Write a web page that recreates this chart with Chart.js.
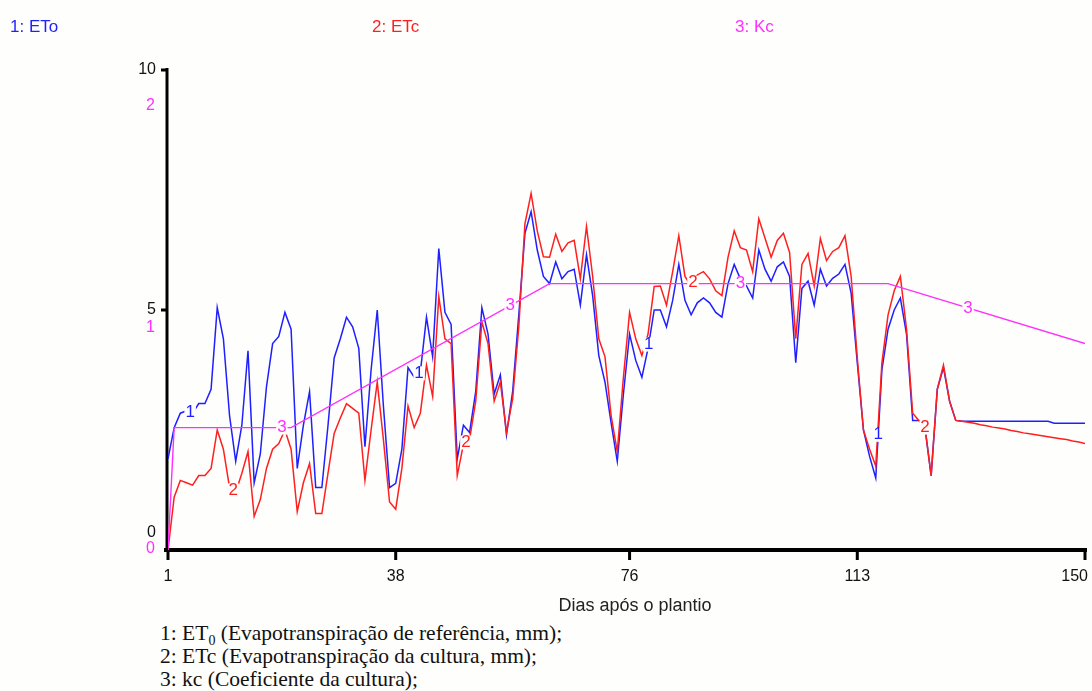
<!DOCTYPE html>
<html>
<head>
<meta charset="utf-8">
<script src="https://cdn.jsdelivr.net/npm/chart.js@4.4.1/dist/chart.umd.min.js"></script>
<style>
  html, body { margin: 0; padding: 0; background: #fefefc; }
  #wrap { position: relative; width: 1092px; height: 691px; overflow: hidden; }
  #myChart { position: absolute; left: 0; top: 0; }
  .cap { position: absolute; left: 160px; font-family: "Liberation Serif", "Times New Roman", serif;
         font-size: 21.5px; line-height: 23px; color: #111; white-space: nowrap; }
  .cap sub { font-size: 14px; line-height: 0; }
</style>
</head>
<body>
<div id="wrap">
  <canvas id="myChart" width="1092" height="620"></canvas>
  <div class="cap" style="top:622px">1: ET<sub>0</sub> (Evapotranspiração de referência, mm);</div>
  <div class="cap" style="top:645px">2: ETc (Evapotranspiração da cultura, mm);</div>
  <div class="cap" style="top:668px">3: kc (Coeficiente da cultura);</div>
</div>
<script>
// dias apos o plantio
const dias = Array.from({length: 150}, (_, i) => i + 1);

// 1: ETo (mm/dia)
const eto = [
  1.9, 2.55, 2.85, 2.9, 2.85, 3.05, 3.05, 3.35, 5.05, 4.4,
  2.8, 1.85, 2.6, 4.15, 1.4, 2.0, 3.4, 4.3, 4.45, 4.95,
  4.6, 1.7, 2.6, 3.3, 1.3, 1.3, 2.6, 4.0, 4.4, 4.85,
  4.65, 4.2, 2.15, 3.75, 5.0, 3.0, 1.3, 1.39, 2.1, 3.8,
  3.6, 3.7, 4.85, 4.03, 6.28, 4.95, 4.7, 1.9, 2.6, 2.45,
  3.3, 5.05, 4.5, 3.25, 3.65, 2.4, 3.3, 4.9, 6.6, 7.05,
  6.25, 5.7, 5.55, 6.0, 5.65, 5.8, 5.85, 5.1, 6.15, 5.3,
  4.05, 3.5, 2.65, 1.85, 3.25, 4.5, 3.95, 3.6, 4.2, 5.0,
  5.0, 4.65, 5.2, 5.95, 5.2, 4.9, 5.15, 5.25, 5.15, 4.95,
  4.85, 5.55, 5.95, 5.65, 5.5, 5.25, 6.25, 5.85, 5.6, 5.9,
  6.0, 5.7, 3.9, 5.45, 5.6, 5.1, 5.85, 5.5, 5.66, 5.75,
  5.95, 5.35, 3.9, 2.5, 1.95, 1.5, 3.75, 4.6, 5.0, 5.25,
  4.5, 2.7, 2.7, 2.55, 1.55, 3.35, 3.8, 3.1, 2.7, 2.68,
  2.68, 2.68, 2.68, 2.68, 2.68, 2.68, 2.68, 2.68, 2.68, 2.68,
  2.68, 2.68, 2.68, 2.68, 2.64, 2.64, 2.64, 2.64, 2.64, 2.64
];

// 2: ETc (mm/dia)
const etc = [
  0, 1.1, 1.45, 1.4, 1.35, 1.55, 1.55, 1.7, 2.5, 2.1,
  1.3, 1.2, 1.6, 2.05, 0.7, 1.05, 1.7, 2.1, 2.22, 2.5,
  2.1, 0.8, 1.4, 1.8, 0.76, 0.76, 1.6, 2.43, 2.75, 3.05,
  2.95, 2.85, 1.45, 2.5, 3.5, 2.3, 1.0, 0.85, 1.7, 3.0,
  2.55, 2.85, 3.85, 3.2, 5.28, 4.4, 4.3, 1.55, 2.2, 2.3,
  3.1, 4.75, 4.3, 3.1, 3.5, 2.45, 3.15, 4.65, 6.8, 7.43,
  6.65, 6.11, 6.1, 6.58, 6.22, 6.4, 6.45, 5.65, 6.74, 5.7,
  4.4, 4.03, 2.8, 2.05, 3.6, 4.95, 4.4, 4.05, 4.5, 5.49,
  5.5, 5.1, 5.8, 6.55, 5.7, 5.5, 5.73, 5.8, 5.65, 5.4,
  5.3, 6.1, 6.65, 6.3, 6.25, 5.8, 6.9, 6.5, 6.1, 6.45,
  6.6, 6.2, 4.4, 5.95, 6.18, 5.5, 6.49, 6.03, 6.22, 6.3,
  6.55, 5.7, 4.0, 2.5, 2.1, 1.75, 3.9, 4.9, 5.4, 5.7,
  4.6, 2.85, 2.7, 2.55, 1.55, 3.35, 3.85, 3.1, 2.7, 2.68,
  2.66, 2.64, 2.61, 2.59, 2.56, 2.54, 2.52, 2.49, 2.47, 2.44,
  2.42, 2.40, 2.38, 2.36, 2.34, 2.32, 2.30, 2.27, 2.25, 2.22
];

// 3: Kc - pontos de quebra da curva
const kcDias = [1, 2, 21, 63, 118, 150];
const kcVals = [0, 0.51, 0.51, 1.11, 1.11, 0.86];

const xTicks = [1, 38, 76, 113, 150];
const yTicks = [0, 5, 10];
const kcTicks = [0, 1, 2];

const AZUL = '#1f1fff', VERM = '#ff1f1f', MAG = '#ff30ff';
const FONTE = '"Liberation Sans", Arial, sans-serif';

// dias onde o numero da curva aparece
const rotulos = [
  { txt: '1', cor: AZUL, eixo: 'y', dias: [4.6, 41.8, 79.1, 116.4], xs: dias, ys: eto },
  { txt: '2', cor: VERM, eixo: 'y', dias: [11.6, 49.4, 86.3, 124], xs: dias, ys: etc },
  { txt: '3', cor: MAG, eixo: 'yk', dias: [19.5, 56.6, 94, 131], xs: kcDias, ys: kcVals }
];

function valorEm(xs, ys, d) {
  for (let i = 1; i < xs.length; i++) {
    if (d <= xs[i]) {
      const t = (d - xs[i - 1]) / (xs[i] - xs[i - 1]);
      return ys[i - 1] + t * (ys[i] - ys[i - 1]);
    }
  }
  return ys[ys.length - 1];
}

const eixos = {
  id: 'eixos',
  beforeDatasetsDraw(chart) {
    const ctx = chart.ctx, sx = chart.scales.x, sy = chart.scales.y;
    const x0 = sx.getPixelForValue(1), x1 = sx.getPixelForValue(150);
    const y0 = sy.getPixelForValue(0), yTop = sy.getPixelForValue(10);
    ctx.save();
    ctx.strokeStyle = '#000';
    ctx.lineWidth = 3;
    ctx.beginPath();
    ctx.moveTo(x0 - 1, yTop - 2); ctx.lineTo(x0 - 1, y0 + 2);
    [10, 5].forEach(v => {
      const p = sy.getPixelForValue(v);
      ctx.moveTo(x0 - 7, p); ctx.lineTo(x0, p);
    });
    ctx.stroke();
    ctx.lineWidth = 4;
    ctx.beginPath();
    ctx.moveTo(x0 - 4, y0); ctx.lineTo(x1 + 2, y0);
    ctx.stroke();
    ctx.lineWidth = 3;
    ctx.beginPath();
    xTicks.forEach(d => {
      const p = sx.getPixelForValue(d);
      ctx.moveTo(p, y0); ctx.lineTo(p, y0 + 10);
    });
    ctx.stroke();
    ctx.restore();
  },
  afterDatasetsDraw(chart) {
    const ctx = chart.ctx, sx = chart.scales.x, sy = chart.scales.y, sk = chart.scales.yk;
    const x0 = sx.getPixelForValue(1), y0 = sy.getPixelForValue(0);
    ctx.save();
    ctx.textBaseline = 'middle';

    // numeros das curvas
    ctx.font = '17px ' + FONTE;
    ctx.textAlign = 'center';
    rotulos.forEach(r => {
      const sc = chart.scales[r.eixo];
      r.dias.forEach(d => {
        const px = sx.getPixelForValue(d);
        const py = sc.getPixelForValue(valorEm(r.xs, r.ys, d));
        const w = ctx.measureText(r.txt).width;
        ctx.fillStyle = '#fefefc';
        ctx.fillRect(px - w / 2 - 1, py - 7, w + 2, 14);
        ctx.fillStyle = r.cor;
        ctx.fillText(r.txt, px, py);
      });
    });

    // escala ETo / ETc
    ctx.font = '16px ' + FONTE;
    ctx.textAlign = 'right';
    ctx.fillStyle = '#111';
    const desl = { 0: -17, 5: 0, 10: 0 };
    yTicks.forEach(v => ctx.fillText(String(v), x0 - 12, sy.getPixelForValue(v) + desl[v]));
    // escala Kc
    ctx.fillStyle = MAG;
    const deslK = { 0: -1, 1: 18, 2: 36 };
    kcTicks.forEach(v => ctx.fillText(String(v), x0 - 13, sk.getPixelForValue(v) + deslK[v]));

    // dias
    ctx.fillStyle = '#111';
    xTicks.forEach((d, i) => {
      const p = sx.getPixelForValue(d);
      ctx.textAlign = i === xTicks.length - 1 ? 'right' : 'center';
      ctx.fillText(String(d), i === xTicks.length - 1 ? p + 3 : p, y0 + 27);
    });
    ctx.textAlign = 'center';
    ctx.fillStyle = '#222';
    ctx.font = '18px ' + FONTE;
    ctx.fillText('Dias após o plantio', 635, y0 + 56);

    // cabecalho das series
    ctx.font = '17px ' + FONTE;
    ctx.textAlign = 'left';
    [['1: ETo', AZUL, 10], ['2: ETc', VERM, 372], ['3: Kc', MAG, 735]].forEach(([t, c, x]) => {
      ctx.fillStyle = c;
      ctx.fillText(t, x, 27);
    });
    ctx.restore();
  }
};

const ctx = document.getElementById('myChart');
new Chart(ctx, {
  type: 'line',
  data: {
    labels: dias,
    datasets: [
      {
        label: 'Kc',
        data: kcDias.map((d, i) => ({ x: d, y: kcVals[i] })),
        yAxisID: 'yk',
        borderColor: MAG,
        borderWidth: 1.4,
        order: 1
      },
      {
        label: 'ETc',
        data: etc,
        yAxisID: 'y',
        borderColor: VERM,
        borderWidth: 1.5,
        order: 2
      },
      {
        label: 'ETo',
        data: eto,
        yAxisID: 'y',
        borderColor: AZUL,
        borderWidth: 1.5,
        order: 3
      }
    ]
  },
  options: {
    responsive: false,
    animation: false,
    layout: { padding: { left: 168, right: 7, top: 70, bottom: 70 } },
    elements: { point: { radius: 0 }, line: { tension: 0, fill: false } },
    plugins: { legend: { display: false }, tooltip: { enabled: false } },
    scales: {
      x: { type: 'linear', min: 1, max: 150, display: false },
      y: { min: 0, max: 10, display: false },
      yk: { min: 0, max: 2, display: false }
    }
  },
  plugins: [eixos]
});
</script>
</body>
</html>
